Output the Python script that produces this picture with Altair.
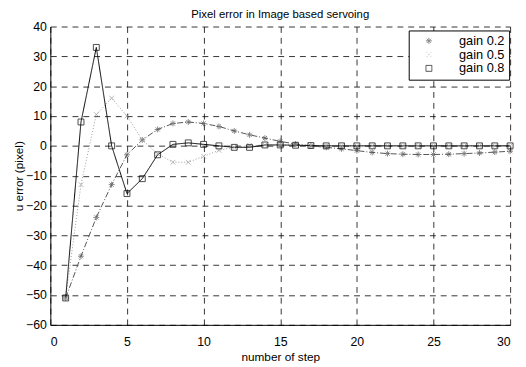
import altair as alt
import pandas as pd

steps = list(range(1, 31))
gain_labels = ["gain 0.2", "gain 0.5", "gain 0.8"]
g02 = [-51, -37, -24, -13, -3, 2, 5.5, 7.5, 8, 7.5, 6.5, 5, 3.7, 2.6, 1.5, 0.6, 0, -0.5, -1, -1.6,
       -2.2, -2.6, -2.8, -2.9, -2.9, -2.8, -2.6, -2.4, -2.1, -1.8]
g05 = [-51, -13, 10.5, 16, 10, 2, -2.7, -5.5, -5.5, -3.5, -1.5, -0.5, 0, 0.3, 0.3, 0.2, 0, 0, 0, 0,
       0, 0, 0, 0, 0, 0, 0, 0, 0, 0]
g08 = [-51, 8, 33, 0, -16, -11, -3, 0.5, 1, 0.5, 0, -0.5, -0.5, 0.3, 0.3, 0.2, 0.1, 0, 0, 0,
       0, 0, 0, 0, 0, 0, 0, 0, 0, 0]

rows = []
for lab, vals in zip(gain_labels, [g02, g05, g08]):
    for s, v in zip(steps, vals):
        rows.append({"step": s, "err": v, "gain": lab})
df = pd.DataFrame(rows)

star = "M-1,0L1,0M0,-1L0,1M-0.7,-0.7L0.7,0.7M-0.7,0.7L0.7,-0.7"
xmark = "M-0.8,-0.8L0.8,0.8M-0.8,0.8L0.8,-0.8"
square = "M-1,-1L1,-1L1,1L-1,1Z"

color_scale = alt.Scale(domain=gain_labels, range=["#555555", "#9a9a9a", "#000000"])
shape_scale = alt.Scale(domain=gain_labels, range=[star, xmark, square])
dash_scale = alt.Scale(domain=gain_labels, range=[[6, 2, 1, 2], [1, 2], [1, 0]])

legend = alt.Legend(title=None, orient="none", legendX=364, legendY=4,
                    strokeColor="#000000", fillColor="white",
                    padding=4, labelFontSize=13, symbolSize=50,
                    symbolStrokeWidth=1, rowPadding=0, labelOffset=24,
                    symbolOffset=10, labelLimit=200,
                    labelFont="Liberation Sans", labelColor="#000000")

x = alt.X("step:Q", scale=alt.Scale(domain=[0, 30], nice=False),
          axis=alt.Axis(values=[0, 5, 10, 15, 20, 25, 30], title="number of step"))
y = alt.Y("err:Q", scale=alt.Scale(domain=[-60, 40], nice=False),
          axis=alt.Axis(values=list(range(-60, 41, 10)), title="u error (pixel)"))

lines = alt.Chart(df).mark_line(strokeWidth=1).encode(
    x=x, y=y,
    color=alt.Color("gain:N", scale=color_scale, legend=legend),
    strokeDash=alt.StrokeDash("gain:N", scale=dash_scale, legend=None),
)

points = alt.Chart(df).mark_point(filled=False, strokeWidth=1).encode(
    x=x, y=y,
    color=alt.Color("gain:N", scale=color_scale, legend=legend),
    shape=alt.Shape("gain:N", scale=shape_scale, legend=legend),
    size=alt.Size("gain:N", scale=alt.Scale(domain=gain_labels, range=[36, 36, 80]), legend=None),
)

chart = alt.layer(lines, points).properties(
    width=467, height=303,
    title=alt.Title("Pixel error in Image based servoing", fontSize=11.5, fontWeight="normal",
                    font="Liberation Sans", offset=0, color="#000000"),
    autosize=alt.AutoSizeParams(type="none"),
    padding={"left": 43, "top": 16, "right": 8, "bottom": 40},
).configure_view(stroke=None).configure_axis(
    grid=True, gridColor="#000000", gridDash=[6, 5], gridOpacity=0.8, gridWidth=1,
    domainColor="#000000", domainWidth=1, ticks=False,
    labelFont="Liberation Sans", titleFont="Liberation Sans",
    labelFontSize=12.5, titleFontSize=12, titleFontWeight="normal",
    labelColor="#000000", titleColor="#000000",
).configure_axisX(labelPadding=11, titlePadding=4).configure_axisY(labelPadding=4, titlePadding=0)

chart.save("out.html", embed_options={"renderer": "svg", "actions": False})
